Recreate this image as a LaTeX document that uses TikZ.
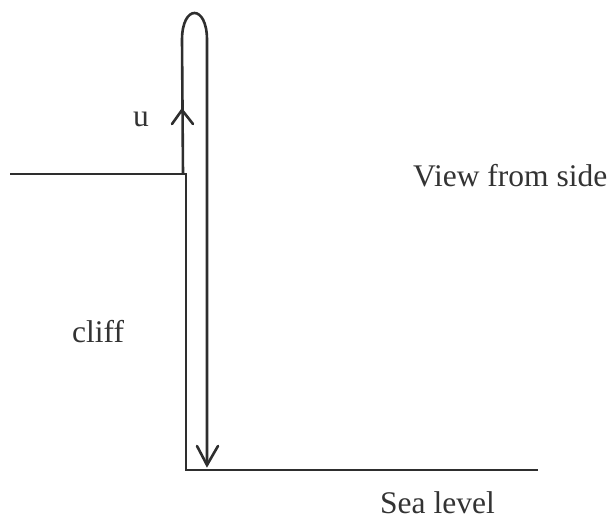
\documentclass[tikz,border=0pt]{standalone}
\usepackage{fontspec}
\setmainfont{Liberation Serif}
\begin{document}
\begin{tikzpicture}[x=1pt,y=-1pt,
  ln/.style={draw=black!82, line width=2.6pt},
  lbl/.style={anchor=base west, inner sep=0pt, text=black!80, font=\fontsize{31.5}{36}\selectfont}]
\useasboundingbox (0,0) rectangle (615,522);
% ground
\coordinate (cl) at (10,174);
\coordinate (ct) at (186,174);
\coordinate (cb) at (186,470);
\coordinate (sr) at (538,470);
\draw[ln, line join=miter] (cl) -- (ct) -- (cb) -- (sr);
% trajectory
\coordinate (st) at (183,174);
\coordinate (ul) at (182,40);
\coordinate (ur) at (207,40);
\coordinate (tip) at (207,465);
\draw[ln] (st) -- (ul) .. controls (182,4) and (207,4) .. (ur) -- (tip);
% arrowheads
\coordinate (uptip) at (182,110);
\draw[ln, line cap=round, line join=miter] (172,124) -- (uptip) -- (193,124);
\draw[ln, line cap=round, line join=miter] (197,446) -- (tip) -- (218,446);
% labels
\node[lbl] (u) at (133,126) {u};
\node[lbl] (view) at (413,186) {View from side};
\node[lbl] (cliff) at (72,342) {cliff};
\node[lbl] (sea) at (380,513) {Sea level};
\end{tikzpicture}
\end{document}
